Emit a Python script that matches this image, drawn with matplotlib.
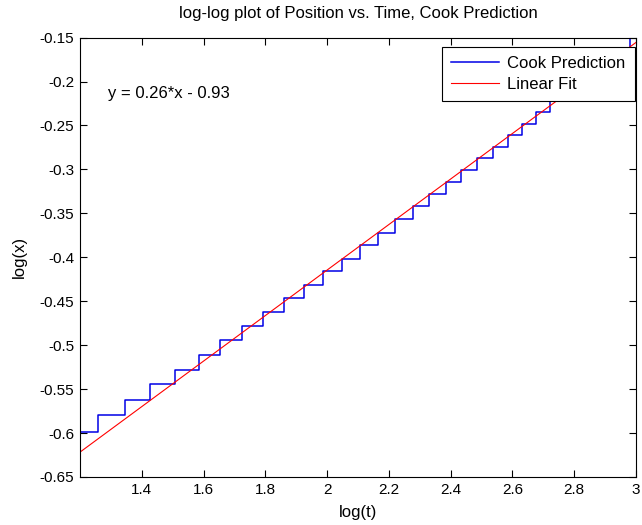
import numpy as np
import matplotlib
matplotlib.use("Agg")
import matplotlib.pyplot as plt
from matplotlib.ticker import FuncFormatter

plt.rcParams['font.family'] = ['Liberation Sans', 'DejaVu Sans']

# log(t) where the Cook prediction jumps to the next level
jump_logt = [1.2589, 1.3457, 1.4270, 1.5060, 1.5840, 1.6546, 1.7252, 1.7935,
             1.8605, 1.9236, 1.9854, 2.0481, 2.1076, 2.1662, 2.2205, 2.2780,
             2.3300, 2.3840, 2.4328, 2.4839, 2.5359, 2.5847, 2.6300, 2.6767,
             2.7222, 2.7659, 2.8091, 2.8530, 2.8953, 2.9376, 2.9805]
# log(x) level held on each step (the last few sit behind the legend)
levels_logx = [-0.5989, -0.5798, -0.5620, -0.5437, -0.5286, -0.5107, -0.4944,
               -0.4785, -0.4625, -0.4462, -0.4318, -0.4158, -0.4014, -0.3862,
               -0.3718, -0.3569, -0.3421, -0.3285, -0.3141, -0.3008, -0.2875,
               -0.2749, -0.2609, -0.2488, -0.2351, -0.2222, -0.2105, -0.1988,
               -0.1870, -0.1752, -0.1640, -0.1480]
t_start, t_end = 1.2, 3.0

# linear fit (shown rounded in the annotation)
fit_slope = 0.2590
fit_icept = -0.9325

x_ticks = [1.4, 1.6, 1.8, 2.0, 2.2, 2.4, 2.6, 2.8, 3.0]
y_ticks = [-0.65, -0.6, -0.55, -0.5, -0.45, -0.4, -0.35, -0.3, -0.25, -0.2, -0.15]

fig = plt.figure(figsize=(6.42, 5.25), dpi=100)
ax = fig.add_axes([80 / 642, 48 / 525, 556 / 642, 439.4 / 525])

step_x = [t_start] + jump_logt + [t_end]
step_y = levels_logx + [levels_logx[-1]]
ax.step(step_x, step_y, where='post', color=(0, 0, 0.9), linewidth=1.1,
        label='Cook Prediction')

fit_x = np.array([t_start, t_end])
ax.plot(fit_x, fit_slope * fit_x + fit_icept, color=(1, 0, 0), linewidth=0.8,
        label='Linear Fit')

ax.set_xlim(t_start, t_end)
ax.set_ylim(-0.65, -0.15)
ax.set_xticks(x_ticks)
ax.set_yticks(y_ticks)
ax.xaxis.set_major_formatter(FuncFormatter(lambda v, p: f"{v:g}"))
ax.yaxis.set_major_formatter(FuncFormatter(lambda v, p: f"{v:g}"))
ax.tick_params(direction='in', top=True, right=True, length=5, width=0.8,
               labelsize=11, pad=4)
for s in ax.spines.values():
    s.set_linewidth(0.8)

ax.set_xlabel('log(t)', fontsize=12, labelpad=6)
ax.set_ylabel('log(x)', fontsize=12, labelpad=9)
ax.set_title('log-log plot of Position vs. Time, Cook Prediction', fontsize=12, pad=14)

ax.text(1.291, -0.2131, 'y = 0.26*x - 0.93', fontsize=12, va='center', ha='left')

leg = ax.legend(loc='upper right', bbox_to_anchor=(0.998, 0.979), borderaxespad=0,
                fontsize=12, handlelength=2.9, handletextpad=0.5, labelspacing=0.36,
                borderpad=0.55, fancybox=False, framealpha=1, edgecolor='black')
leg.get_frame().set_linewidth(0.8)

fig.savefig('out.png', dpi=100)
